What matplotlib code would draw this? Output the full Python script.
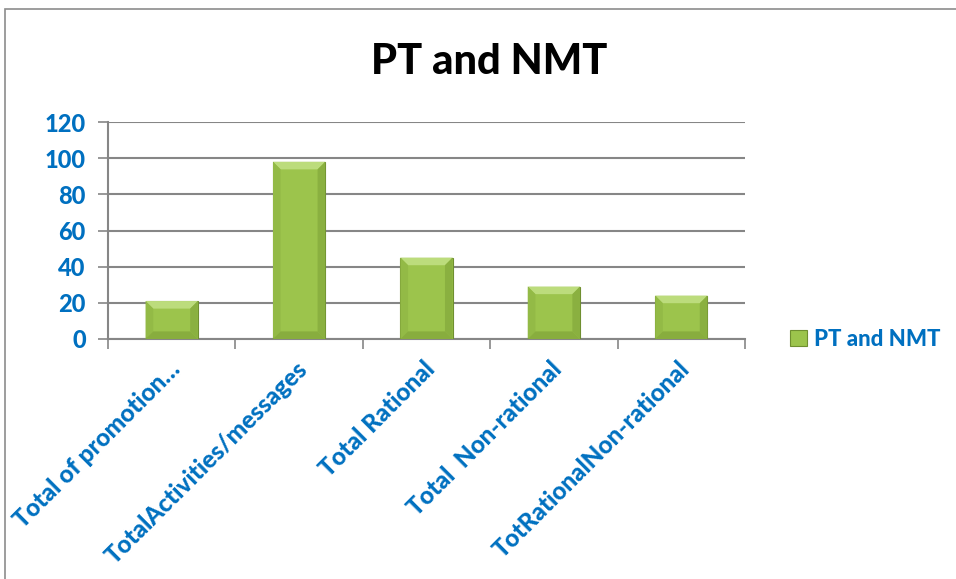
import matplotlib.pyplot as plt
from matplotlib.patches import Polygon, Rectangle

categories = ["Total of promotion…", "TotalActivities/messages", "Total Rational",
              "Total  Non-rational", "TotRationalNon-rational"]
values = [21, 98, 45, 29, 24]
yticks = [0, 20, 40, 60, 80, 100, 120]
series_name = "PT and NMT"

blue = "#0070C0"
grid_c = "#868686"
face = "#9CC44C"
heavy = 900

plt.rcParams['font.family'] = ['Lato', 'DejaVu Sans']

fig = plt.figure(figsize=(9.56, 5.79), dpi=100)
# chart area frame
fig.add_artist(Rectangle((5 / 956, -0.05), 1.0, 1 - 9 / 579 + 0.05, transform=fig.transFigure,
                         fill=False, edgecolor="#8c8c8c", linewidth=1.2))
ax = fig.add_axes([108 / 956, 1 - 339 / 579, (745 - 108) / 956, (339 - 122) / 579])

x = list(range(len(categories)))
bars = ax.bar(x, values, width=0.41, color=face, edgecolor="#6f8f30", linewidth=0.8, zorder=3,
              label=series_name)

# bevel on each bar: lighter top, darker sides and bottom
for b in bars:
    x0, y0, w, h = b.get_x(), b.get_y(), b.get_width(), b.get_height()
    dx = 0.06
    dy = min(4.2, h * 0.2)
    ax.add_patch(Polygon([(x0, y0 + h), (x0 + w, y0 + h), (x0 + w - dx, y0 + h - dy), (x0 + dx, y0 + h - dy)],
                         closed=True, facecolor="#BCDC7C", edgecolor="none", zorder=4))
    ax.add_patch(Polygon([(x0, y0 + h), (x0 + dx, y0 + h - dy), (x0 + dx, y0 + dy), (x0, y0)],
                         closed=True, facecolor="#93BA46", edgecolor="none", zorder=4))
    ax.add_patch(Polygon([(x0 + w, y0 + h), (x0 + w - dx, y0 + h - dy), (x0 + w - dx, y0 + dy), (x0 + w, y0)],
                         closed=True, facecolor="#8AB040", edgecolor="none", zorder=4))
    ax.add_patch(Polygon([(x0, y0), (x0 + dx, y0 + dy), (x0 + w - dx, y0 + dy), (x0 + w, y0)],
                         closed=True, facecolor="#88AD3E", edgecolor="none", zorder=4))

ax.set_xlim(-0.5, len(categories) - 0.5)
ax.set_ylim(0, 120)
ax.set_yticks(yticks)
ax.set_yticklabels([str(v) for v in yticks], color=blue, fontsize=17, fontweight=heavy)
ax.yaxis.grid(True, color=grid_c, linewidth=1.5, zorder=0)
ax.set_axisbelow(True)
ax.tick_params(axis="y", length=7, width=1.2, color=grid_c, pad=9)

ax.set_xticks([i - 0.5 for i in range(len(categories) + 1)], minor=False)
ax.set_xticklabels([])
ax.tick_params(axis="x", length=7, width=1.2, color=grid_c)
for i, name in enumerate(categories):
    ax.text(i - 0.03, -0.083, name, transform=ax.get_xaxis_transform(), rotation=45,
            ha="right", va="top", rotation_mode="anchor", color=blue, fontsize=17.5,
            fontweight=heavy)

for s in ["top", "right"]:
    ax.spines[s].set_visible(False)
for s in ["left", "bottom"]:
    ax.spines[s].set_color(grid_c)
    ax.spines[s].set_linewidth(1.5)

fig.text(0.512, 1 - 62 / 579, "PT and NMT", ha="center", va="center", fontsize=30,
         fontweight=heavy, color="black")

leg = ax.legend(loc="center left", bbox_to_anchor=(1.04, 0.0), frameon=False,
                handlelength=0.75, handleheight=0.75, handletextpad=0.3,
                prop={"size": 16, "weight": heavy})
for t in leg.get_texts():
    t.set_color(blue)

fig.savefig("out.png", dpi=100)
